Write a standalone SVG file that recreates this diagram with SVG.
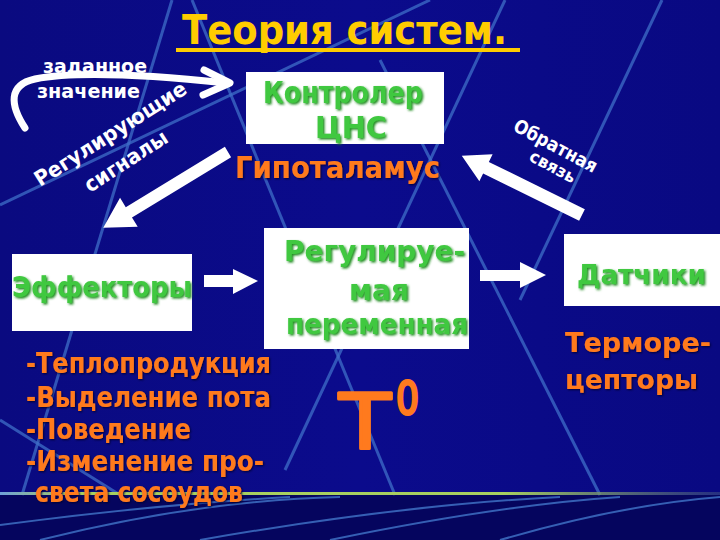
<svg xmlns="http://www.w3.org/2000/svg" width="720" height="540" viewBox="0 0 720 540">
<defs>
<style>
.bgl{stroke:#3f6fc8;stroke-width:3;fill:none;opacity:0.75}
.bgb{stroke:#4a86d8;stroke-width:2;fill:none;opacity:0.7}
.box{fill:#ffffff}
.g{font-family:"DejaVu Sans","Liberation Sans",sans-serif;font-weight:bold;fill:#3fc83f;filter:url(#gs)}
.o{font-family:"DejaVu Sans","Liberation Sans",sans-serif;font-weight:bold;fill:#ff7a1e;filter:url(#os)}
.t{font-family:"DejaVu Sans","Liberation Sans",sans-serif;font-weight:normal;fill:#ff7a1e;stroke:#ff7a1e;stroke-width:3;stroke-linejoin:round}
.w{font-family:"DejaVu Sans","Liberation Sans",sans-serif;font-weight:bold;fill:#ffffff}
.arr{fill:#ffffff}
</style>
<filter id="gs" x="-2%" y="-20%" width="104%" height="140%"><feDropShadow dx="1.5" dy="1.5" stdDeviation="0.8" flood-color="#1c8a1c"/></filter>
<filter id="os" x="-2%" y="-20%" width="104%" height="140%"><feDropShadow dx="1" dy="1" stdDeviation="1" flood-color="#000030"/></filter>
<linearGradient id="bg" x1="0" y1="0" x2="1" y2="0">
<stop offset="0" stop-color="#0a0a80"/><stop offset="0.5" stop-color="#0b0b8c"/><stop offset="1" stop-color="#090982"/>
</linearGradient>
<linearGradient id="gl" x1="0" y1="0" x2="1" y2="0">
<stop offset="0" stop-color="#6fa0d8"/><stop offset="0.1" stop-color="#a8d060"/><stop offset="0.7" stop-color="#a8d060"/><stop offset="1" stop-color="#3a4a80" stop-opacity="0.6"/>
</linearGradient>
</defs>
<rect x="0" y="0" width="720" height="540" fill="url(#bg)"/>
<rect x="0" y="495" width="720" height="45" fill="#05055e"/>
<g id="background-lines">
<line class="bgl" x1="172" y1="0" x2="22" y2="495"/>
<line class="bgl" x1="192" y1="0" x2="395" y2="495"/>
<line class="bgl" x1="0" y1="205" x2="430" y2="0"/>
<line class="bgl" x1="505" y1="0" x2="285" y2="470"/>
<line class="bgl" x1="662" y1="0" x2="520" y2="300"/>
<line class="bgl" x1="380" y1="60" x2="600" y2="495"/>
<line class="bgl" x1="0" y1="420" x2="120" y2="495"/>
<path class="bgb" d="M40,540 Q200,500 340,497"/>
<path class="bgb" d="M0,525 Q150,505 290,497"/>
<path class="bgb" d="M200,540 Q400,505 560,497"/>
<path class="bgb" d="M330,540 Q500,505 620,497"/>
<path class="bgb" d="M500,540 Q620,505 720,497"/>
</g>
<rect x="0" y="492" width="720" height="3" fill="url(#gl)"/>
<g id="title">
<text x="182" y="44" font-family="DejaVu Sans, Liberation Sans, sans-serif" font-weight="bold" font-size="40" fill="#ffcc00" textLength="325" lengthAdjust="spacingAndGlyphs">Теория систем.</text>
<rect x="176" y="48" width="344" height="4" fill="#ffcc00"/>
</g>
<g id="controller">
<rect class="box" x="246" y="72" width="198" height="72"/>
<text class="g" x="263" y="103" font-size="30" textLength="160" lengthAdjust="spacingAndGlyphs">Контролер</text>
<text class="g" x="315" y="138" font-size="30" textLength="72" lengthAdjust="spacingAndGlyphs">ЦНС</text>
<text class="o" x="235" y="178" font-size="30" textLength="205" lengthAdjust="spacingAndGlyphs">Гипоталамус</text>
</g>
<g id="effectors">
<rect class="box" x="12" y="254" width="180" height="77"/>
<text class="g" x="12" y="297" font-size="28" textLength="180" lengthAdjust="spacingAndGlyphs">Эффекторы</text>
<g class="o" font-size="28">
<text x="26" y="373" textLength="245" lengthAdjust="spacingAndGlyphs">-Теплопродукция</text>
<text x="26" y="407" textLength="245" lengthAdjust="spacingAndGlyphs">-Выделение пота</text>
<text x="26" y="439" textLength="165" lengthAdjust="spacingAndGlyphs">-Поведение</text>
<text x="26" y="471" textLength="238" lengthAdjust="spacingAndGlyphs">-Изменение про-</text>
<text x="35" y="502" textLength="208" lengthAdjust="spacingAndGlyphs">света сосоудов</text>
</g>
</g>
<g id="variable">
<rect class="box" x="264" y="228" width="205" height="121"/>
<text class="g" x="284" y="261" font-size="28" textLength="181" lengthAdjust="spacingAndGlyphs">Регулируе-</text>
<text class="g" x="349" y="300" font-size="28" textLength="60" lengthAdjust="spacingAndGlyphs">мая</text>
<text class="g" x="286" y="334" font-size="28" textLength="182" lengthAdjust="spacingAndGlyphs">переменная</text>
<text class="t" x="339" y="449" font-size="76" textLength="52" lengthAdjust="spacingAndGlyphs">T</text>
<text class="t" x="396" y="414" font-size="45" textLength="23" lengthAdjust="spacingAndGlyphs">0</text>
</g>
<g id="sensors">
<rect class="box" x="564" y="234" width="156" height="72"/>
<text class="g" x="577" y="284" font-size="26" textLength="129" lengthAdjust="spacingAndGlyphs">Датчики</text>
<text class="o" x="565" y="352" font-size="27" textLength="146" lengthAdjust="spacingAndGlyphs">Терморе-</text>
<text class="o" x="565" y="389" font-size="27" textLength="133" lengthAdjust="spacingAndGlyphs">цепторы</text>
</g>
<g id="labels">
<text class="w" x="43" y="73" font-size="20" textLength="104" lengthAdjust="spacingAndGlyphs">заданное</text>
<text class="w" x="37" y="98" font-size="20" textLength="103" lengthAdjust="spacingAndGlyphs">значение</text>
<text class="w" font-size="21" transform="translate(40,187) rotate(-32.5)" textLength="176" lengthAdjust="spacingAndGlyphs">Регулирующие</text>
<text class="w" font-size="21" transform="translate(90,193) rotate(-33)" textLength="95" lengthAdjust="spacingAndGlyphs">сигналы</text>
<text class="w" font-size="19" transform="translate(512,130) rotate(28)" textLength="92" lengthAdjust="spacingAndGlyphs">Обратная</text>
<text class="w" font-size="17" transform="translate(528,160) rotate(28)" textLength="50" lengthAdjust="spacingAndGlyphs">связь</text>
</g>
<g id="connectors">
<path d="M25,128 C10,105 8,85 35,79 C80,70 160,76 226,83" fill="none" stroke="#ffffff" stroke-width="7" stroke-linecap="round"/>
<path d="M204,70 L230,83 L203,95" fill="none" stroke="#ffffff" stroke-width="7" stroke-linecap="round" stroke-linejoin="round"/>
<path class="arr" transform="translate(228,152) rotate(148.7)" d="M0,-6 L116,-6 L116,-17 L146,0 L116,17 L116,6 L0,6 Z"/>
<path class="arr" transform="translate(582,215) rotate(-153.8)" d="M0,-6.5 L107,-6.5 L107,-15 L134,0 L107,15 L107,6.5 L0,6.5 Z"/>
<path class="arr" d="M204,275 L233,275 L233,269 L258,281 L233,294 L233,287 L204,287 Z"/>
<path class="arr" d="M480,270 L520,270 L520,262 L546,275 L520,288 L520,281 L480,281 Z"/>
</g>
</svg>
